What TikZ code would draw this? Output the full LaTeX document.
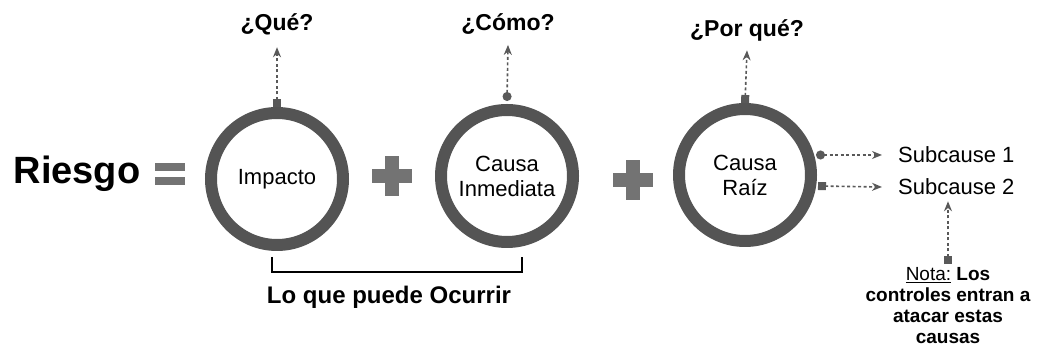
\documentclass[tikz,border=0pt]{standalone}
\usepackage{fontspec}
\setmainfont{Liberation Sans}
\usetikzlibrary{arrows.meta}
\definecolor{ringgray}{gray}{0.33}
\definecolor{signgray}{gray}{0.45}
\definecolor{arrgray}{gray}{0.35}
\tikzset{
  ring/.style={circle, draw=ringgray, line width=12pt, minimum size=132pt, inner sep=0pt, align=center, font=\fontsize{22}{25}\selectfont},
  question/.style={font=\bfseries\fontsize{23}{26}\selectfont},
  sub/.style={font=\fontsize{22}{25}\selectfont, anchor=west, inner sep=0pt},
  darr/.style={arrgray, line width=1.6pt, dash pattern=on 3pt off 2.5pt},
  sqstart/.style={{Square[length=8pt,width=8pt]}-{Stealth[length=10pt,width=8pt]}},
  cistart/.style={{Circle[length=9pt,width=9pt]}-{Stealth[length=10pt,width=8pt]}},
  plussign/.pic={\fill[signgray] (-20,-7) rectangle (20,7); \fill[signgray] (-7,-20) rectangle (7,20);},
  equalsign/.pic={\fill[signgray] (-15,3) rectangle (15,11); \fill[signgray] (-15,-11) rectangle (15,-3);}
}
\begin{document}
\begin{tikzpicture}[x=1pt,y=1pt]
\useasboundingbox (0,0) rectangle (1037,350);
% left side
\node[font=\bfseries\fontsize{38}{40}\selectfont] (riesgo) at (77,176) {Riesgo};
\pic at (170,176) {equalsign};
% circles
\node[ring] (imp) at (277,171) {Impacto};
\node[ring] (inm) at (507,174) {Causa\\Inmediata};
\node[ring] (raiz) at (745,175) {Causa\\Raíz};
\pic at (392,174) {plussign};
\pic at (633,170) {plussign};
% questions
\node[question] (que) at (277,326) {¿Qué?};
\node[question] (como) at (508,326) {¿Cómo?};
\node[question] (porque) at (747,320) {¿Por qué?};
\draw[darr, sqstart] (imp.north) -- ([yshift=-9pt]que.south);
\draw[darr, cistart] ([yshift=3pt]inm.north) -- ([yshift=-7pt]como.south);
\draw[darr, sqstart] (raiz.north) -- ([yshift=-6pt]porque.south);
% subcauses
\node[sub] (s1) at (898,195) {Subcause 1};
\node[sub] (s2) at (898,163) {Subcause 2};
\coordinate (r1) at (816,195);
\coordinate (r2) at (818,164);
\draw[darr, cistart] (r1) -- ([xshift=-16pt]s1.west);
\draw[darr, sqstart] (r2) -- ([xshift=-16pt]s2.west);
% nota
\node[align=center, font=\bfseries\fontsize{19}{21}\selectfont, anchor=north] (nota) at (948,86)
  {\underline{\mdseries Nota:} Los\\controles entran a\\atacar estas\\causas};
\draw[darr, sqstart] (nota.north) -- ([yshift=-6pt]s2.south -| nota.north);
% bracket
\coordinate (bl) at (272,93);
\coordinate (br) at (522,93);
\draw[black, line width=1.3pt] (bl) -- ++(0,-15) -| (br);
\node[font=\bfseries\fontsize{24}{26}\selectfont] (lo) at (389,53) {Lo que puede Ocurrir};
\end{tikzpicture}
\end{document}
